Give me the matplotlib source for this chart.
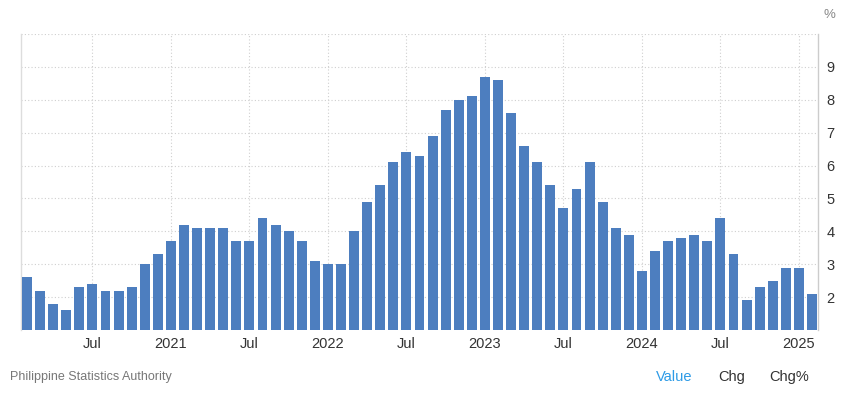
import matplotlib
matplotlib.use("Agg")
import matplotlib.pyplot as plt

plt.rcParams["font.family"] = ["Liberation Sans", "DejaVu Sans"]

months = ["2020-02","2020-03","2020-04","2020-05","2020-06","2020-07","2020-08","2020-09","2020-10","2020-11","2020-12",
          "2021-01","2021-02","2021-03","2021-04","2021-05","2021-06","2021-07","2021-08","2021-09","2021-10","2021-11","2021-12",
          "2022-01","2022-02","2022-03","2022-04","2022-05","2022-06","2022-07","2022-08","2022-09","2022-10","2022-11","2022-12",
          "2023-01","2023-02","2023-03","2023-04","2023-05","2023-06","2023-07","2023-08","2023-09","2023-10","2023-11","2023-12",
          "2024-01","2024-02","2024-03","2024-04","2024-05","2024-06","2024-07","2024-08","2024-09","2024-10","2024-11","2024-12",
          "2025-01","2025-02"]
values = [2.6, 2.2, 1.8, 1.6, 2.3, 2.4, 2.2, 2.2, 2.3, 3.0, 3.3,
          3.7, 4.2, 4.1, 4.1, 4.1, 3.7, 3.7, 4.4, 4.2, 4.0, 3.7, 3.1,
          3.0, 3.0, 4.0, 4.9, 5.4, 6.1, 6.4, 6.3, 6.9, 7.7, 8.0, 8.1,
          8.7, 8.6, 7.6, 6.6, 6.1, 5.4, 4.7, 5.3, 6.1, 4.9, 4.1, 3.9,
          2.8, 3.4, 3.7, 3.8, 3.9, 3.7, 4.4, 3.3, 1.9, 2.3, 2.5, 2.9,
          2.9, 2.1]
tick_months = ["2020-07","2021-01","2021-07","2022-01","2022-07","2023-01","2023-07","2024-01","2024-07","2025-01"]
tick_labels = ["Jul","2021","Jul","2022","Jul","2023","Jul","2024","Jul","2025"]
y_ticks = [2, 3, 4, 5, 6, 7, 8, 9]

W, H = 843, 401
fig = plt.figure(figsize=(W/100, H/100), dpi=100)
ax = fig.add_axes([21/W, (H-330)/H, 797/W, 296/H])

x = list(range(len(values)))
ax.bar(x, [v - 1 for v in values], bottom=1, width=0.76, color="#4d7ebf", zorder=3)

ax.set_xlim(-0.46, len(values) - 0.54)
ax.set_ylim(1, 10)
ax.set_xticks([months.index(m) for m in tick_months])
ax.set_xticklabels(tick_labels, fontsize=10.5, color="#333333")
ax.set_yticks(y_ticks + [10])
ax.set_yticklabels([str(t) for t in y_ticks] + [""], fontsize=10.5, color="#333333")
ax.yaxis.tick_right()
ax.tick_params(axis="x", length=0, pad=5)
ax.tick_params(axis="y", length=0, pad=6)

ax.grid(True, linestyle=(0, (1, 2)), color="#cfcfcf", linewidth=0.8, zorder=0)
for s in ["top", "bottom"]:
    ax.spines[s].set_visible(False)
ax.spines["left"].set_color("#dddddd")
ax.spines["right"].set_color("#cccccc")
ax.spines["left"].set_linewidth(1)
ax.spines["right"].set_linewidth(1)

fig.text(829/W, 1 - 15/H, "%", fontsize=9.5, color="#888888", ha="center", va="center")
fig.text(10/W, 1 - 377/H, "Philippine Statistics Authority", fontsize=9, color="#777777", ha="left", va="center")
fig.text(674/W, 1 - 377/H, "Value", fontsize=10.5, color="#2e9be6", ha="center", va="center")
fig.text(732/W, 1 - 377/H, "Chg", fontsize=10.5, color="#333333", ha="center", va="center")
fig.text(789/W, 1 - 377/H, "Chg%", fontsize=10.5, color="#333333", ha="center", va="center")

fig.savefig("out.png", dpi=100)
